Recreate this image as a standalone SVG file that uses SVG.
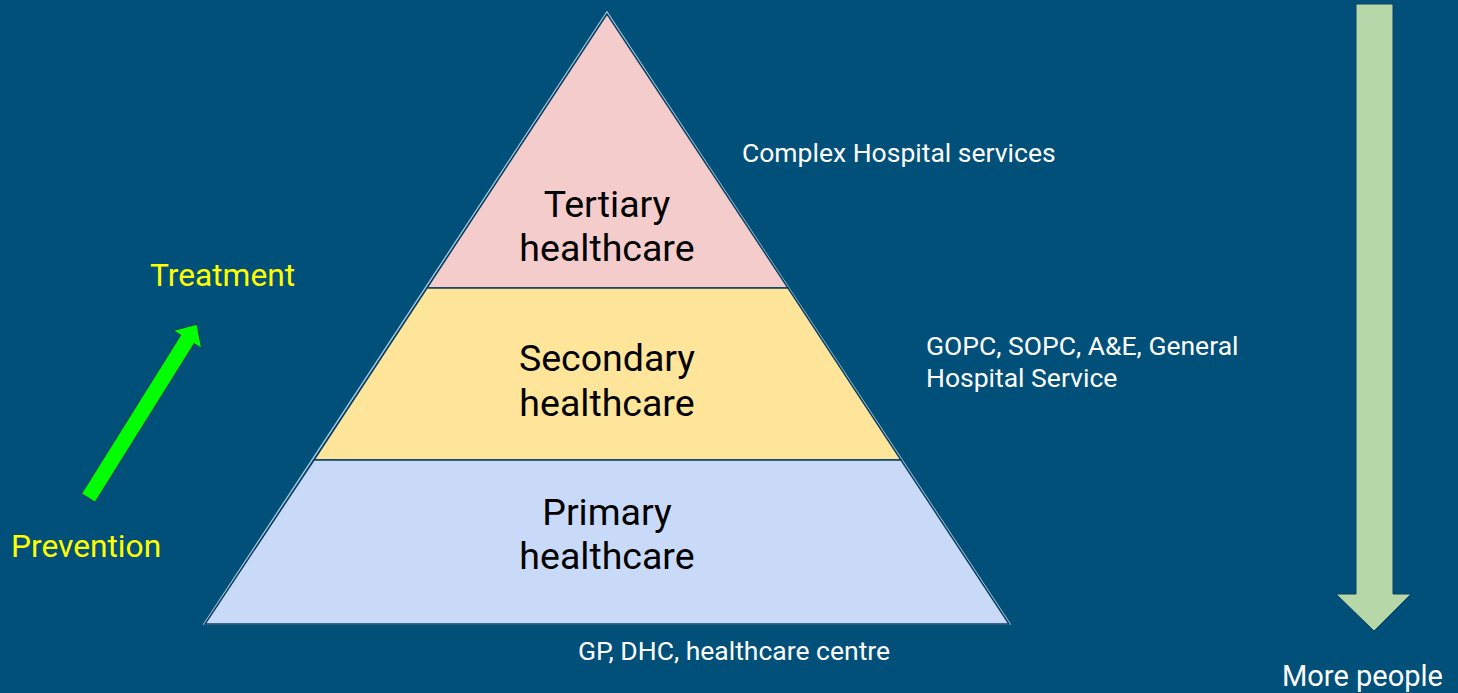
<svg xmlns="http://www.w3.org/2000/svg" width="1458" height="693" viewBox="0 0 1458 693">
<style>
.lvl{font-family:Roboto,"Liberation Sans",sans-serif;font-size:37.5px;fill:#000;text-anchor:middle}
.note{font-family:Roboto,"Liberation Sans",sans-serif;font-size:26.5px;fill:#fff}
.yel{font-family:Roboto,"Liberation Sans",sans-serif;font-size:31.7px;fill:#ffff00}
.band{stroke:#0b3f60;stroke-width:1.5}
</style>
<rect width="1458" height="693" fill="#00507a"/>
<g id="pyramid-outline">
<polygon points="607,12 204,624 1010,624" fill="none" stroke="#a8c8e0" stroke-width="1.5"/>
</g>
<g id="tertiary">
<polygon class="band" points="607,14 427,288 788,288" fill="#f4cccc"/>
<text class="lvl" x="607" y="217">Tertiary</text>
<text class="lvl" x="607" y="261">healthcare</text>
</g>
<g id="secondary">
<polygon class="band" points="427,288 788,288 901,460 314,460" fill="#ffe599"/>
<text class="lvl" x="607" y="371">Secondary</text>
<text class="lvl" x="607" y="416">healthcare</text>
</g>
<g id="primary">
<polygon class="band" points="314,460 901,460 1009,624 205,624" fill="#c9daf8"/>
<text class="lvl" x="607" y="525">Primary</text>
<text class="lvl" x="607" y="569">healthcare</text>
</g>
<g id="labels">
<text class="note" x="742" y="162">Complex Hospital services</text>
<text class="note" x="926" y="355">GOPC, SOPC, A&amp;E, General</text>
<text class="note" x="926" y="387">Hospital Service</text>
<text class="note" x="578" y="660">GP, DHC, healthcare centre</text>
<text class="note" x="1282" y="686" style="font-size:29px">More people</text>
<text class="yel" x="150" y="286">Treatment</text>
<text class="yel" x="11" y="557">Prevention</text>
</g>
<g id="connectors">
<g id="prevention-arrow" transform="translate(88.3,498) rotate(-58)">
<polygon points="0,-8 187,-8 187,-16.8 205,0 187,16.8 187,8 0,8" fill="#00ff00" stroke="#0b3f60" stroke-width="1"/>
</g>
<g id="people-arrow">
<polygon points="1356,4 1393,4 1393,594 1411,594 1374,631 1336,594 1356,594" fill="#b6d7a8" stroke="#0b3f60" stroke-width="1"/>
</g>
</g>
</svg>
